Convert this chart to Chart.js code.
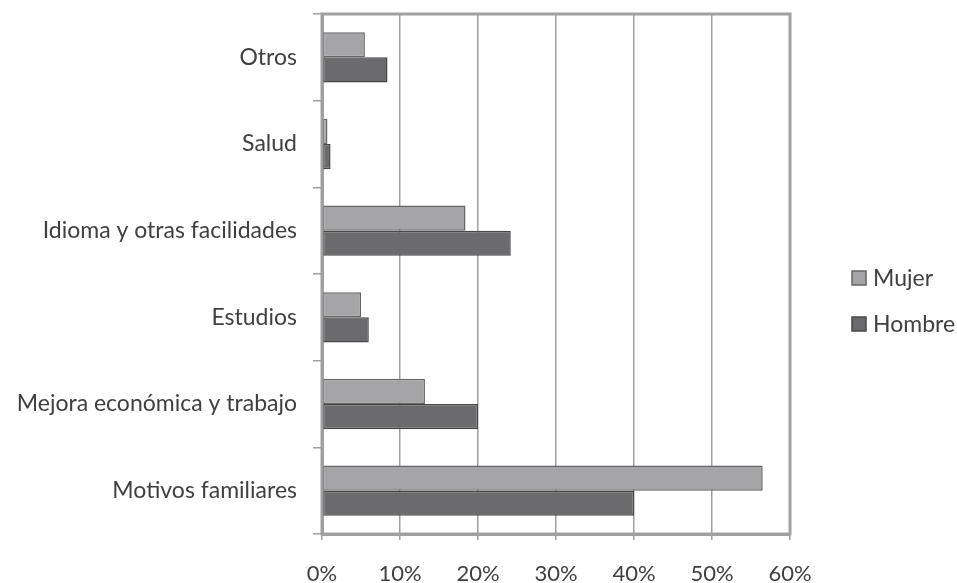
<!DOCTYPE html>
<html>
<head>
<meta charset="utf-8">
<title>Motivos por sexo</title>
<script src="https://cdn.jsdelivr.net/npm/chart.js@4.4.0/dist/chart.umd.min.js"></script>
<style>
  html, body { margin: 0; padding: 0; background: #fff; }
  #wrap { width: 957px; height: 583px; }
</style>
</head>
<body>
<div id="wrap"><canvas id="grafico" width="957" height="583"></canvas></div>
<script>
// datos (porcentajes)
const categorias = ['Otros', 'Salud', 'Idioma y otras facilidades', 'Estudios', 'Mejora económica y trabajo', 'Motivos familiares'];
const mujer = [5.5, 0.7, 18.4, 5.0, 13.2, 56.5];
const hombre = [8.4, 1.1, 24.2, 6.0, 20.0, 40.0];
const ticksX = [0, 10, 20, 30, 40, 50, 60];

const gris = '#a0a0a0';
const texto = '#404040';
const fuente = 'Lato';

// marco alrededor del área del gráfico
const marco = {
  id: 'marco',
  afterDatasetsDraw(chart) {
    const { ctx, chartArea: a } = chart;
    ctx.save();
    ctx.strokeStyle = gris;
    ctx.lineWidth = 3;
    ctx.strokeRect(a.left, a.top, a.right - a.left, a.bottom - a.top);
    ctx.restore();
  }
};

// leyenda a la derecha (dibujada a mano para fijar la posición)
const leyenda = {
  id: 'leyenda',
  afterDraw(chart) {
    const ctx = chart.ctx;
    const x = 852, y0 = 278, paso = 46, lado = 14;
    ctx.save();
    ctx.font = '23px ' + fuente;
    ctx.textBaseline = 'middle';
    chart.data.datasets.forEach((ds, i) => {
      const y = y0 + i * paso;
      ctx.fillStyle = ds.backgroundColor;
      ctx.fillRect(x, y - lado / 2, lado, lado);
      ctx.strokeStyle = ds.borderColor;
      ctx.lineWidth = 1.5;
      ctx.strokeRect(x, y - lado / 2, lado, lado);
      ctx.fillStyle = texto;
      ctx.fillText(ds.label, x + 21, y + 1);
    });
    ctx.restore();
  }
};

new Chart(document.getElementById('grafico'), {
  type: 'bar',
  data: {
    labels: categorias,
    datasets: [
      {
        label: 'Mujer',
        data: mujer,
        backgroundColor: '#a5a5a8',
        borderColor: '#666666',
        borderWidth: 1.5,
        borderSkipped: false,
        categoryPercentage: 0.58,
        barPercentage: 1.0
      },
      {
        label: 'Hombre',
        data: hombre,
        backgroundColor: '#6b6b6d',
        borderColor: '#474747',
        borderWidth: 1.5,
        borderSkipped: false,
        categoryPercentage: 0.58,
        barPercentage: 1.0
      }
    ]
  },
  options: {
    indexAxis: 'y',
    responsive: false,
    animation: false,
    layout: { padding: { top: 14, right: 167, left: 0, bottom: 0 } },
    plugins: {
      tooltip: { enabled: false },
      legend: { display: false }
    },
    scales: {
      x: {
        min: 0,
        max: 60,
        afterBuildTicks(axis) { axis.ticks = ticksX.map(v => ({ value: v })); },
        afterFit(axis) { axis.height = 49; },
        ticks: {
          callback: v => v + '%',
          color: texto,
          padding: 21,
          maxRotation: 0,
          font: { family: fuente, size: 22 }
        },
        grid: { color: gris, lineWidth: 1.5, tickLength: 6 },
        border: { color: gris, width: 3 }
      },
      y: {
        afterFit(axis) {
          axis.width = 322;
          axis.paddingTop = 0;
          axis.paddingBottom = 0;
        },
        ticks: {
          color: texto,
          padding: 16,
          font: { family: fuente, size: 23 }
        },
        grid: { offset: true, drawOnChartArea: false, color: gris, lineWidth: 1.5, tickLength: 9 },
        border: { color: gris, width: 3 }
      }
    }
  },
  plugins: [marco, leyenda]
});
</script>
</body>
</html>
